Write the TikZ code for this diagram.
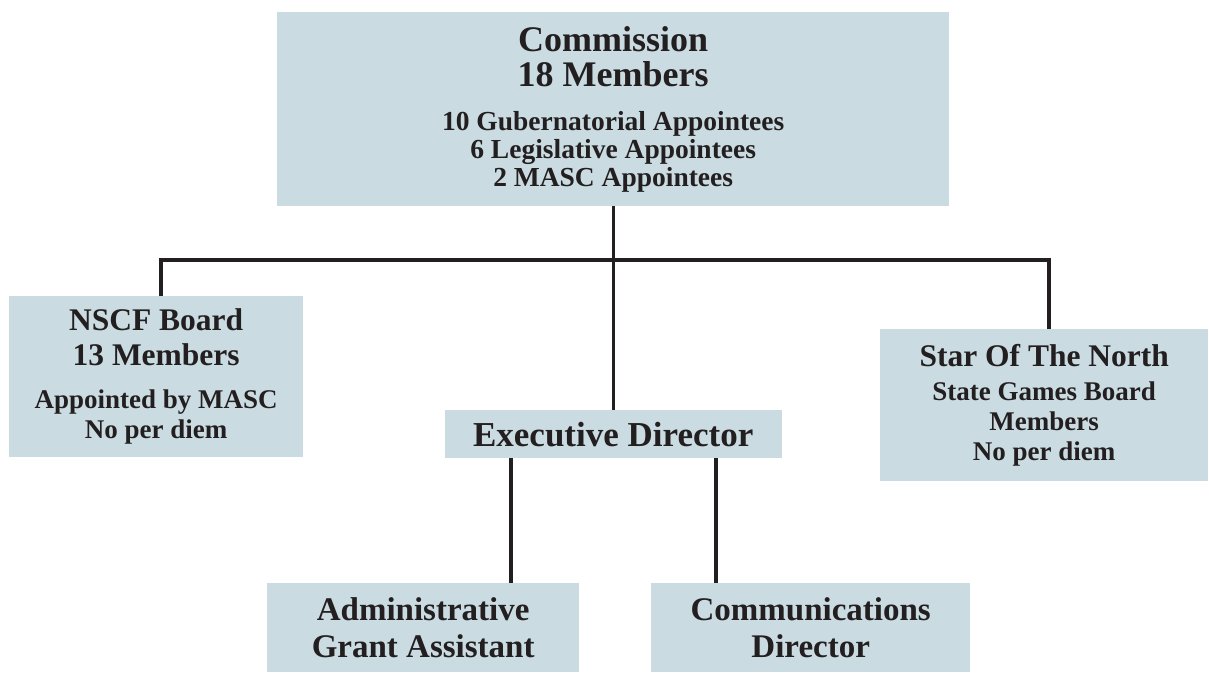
\documentclass[tikz,border=0pt]{standalone}
\usepackage{fontspec}
\setmainfont{Liberation Serif}
\definecolor{boxfill}{HTML}{CADCE2}
\definecolor{ink}{HTML}{231F20}
\begin{document}
\begin{tikzpicture}[x=1pt,y=-1pt,
  orgbox/.style={fill=boxfill,draw=none,inner sep=0pt,anchor=north west,align=center,text=ink},
  link/.style={draw=ink,line width=3.4pt}]
\useasboundingbox (0,0) rectangle (1209,673);
\node[orgbox,minimum width=672pt,minimum height=194pt,font=\fontsize{27.5}{28}\selectfont\bfseries] (comm) at (277,12)
  {{\fontsize{36}{28}\selectfont Commission}\\[7pt]{\fontsize{36}{28}\selectfont 18 Members}\\[16pt]
   10 Gubernatorial Appointees\\6 Legislative Appointees\\2 MASC Appointees};
\node[orgbox,minimum width=294pt,minimum height=161pt,font=\fontsize{27}{30}\selectfont\bfseries] (nscf) at (9,296)
  {{\fontsize{31.5}{30}\selectfont NSCF Board}\\[5pt]{\fontsize{31.5}{30}\selectfont 13 Members}\\[13pt]
   Appointed by MASC\\No per diem};
\node[orgbox,minimum width=337pt,minimum height=48pt,font=\fontsize{35}{38}\selectfont\bfseries] (ed) at (444.5,410)
  {Executive Director};
\node[orgbox,minimum width=328pt,minimum height=152pt,font=\fontsize{27}{30}\selectfont\bfseries] (star) at (880,329)
  {{\fontsize{31.5}{30}\selectfont Star Of The North}\\[4pt]
   State Games Board\\Members\\No per diem};
\node[orgbox,minimum width=312pt,minimum height=89pt,font=\fontsize{33}{37}\selectfont\bfseries] (admin) at (267,583)
  {Administrative\\Grant Assistant};
\node[orgbox,minimum width=319pt,minimum height=89pt,font=\fontsize{33}{37}\selectfont\bfseries] (comms) at (651,583)
  {Communications\\Director};
\coordinate (bar) at (613,260);
\coordinate (lx) at (161,0);
\coordinate (rx) at (1049,0);
\coordinate (ax) at (511,0);
\coordinate (cx) at (716,0);
\draw[link] (comm.south) -- (ed.north);
\draw[link] (nscf.north -| lx) |- (bar) -| (star.north -| rx);
\draw[link] (ed.south -| ax) -- (admin.north -| ax);
\draw[link] (ed.south -| cx) -- (comms.north -| cx);
\end{tikzpicture}
\end{document}
